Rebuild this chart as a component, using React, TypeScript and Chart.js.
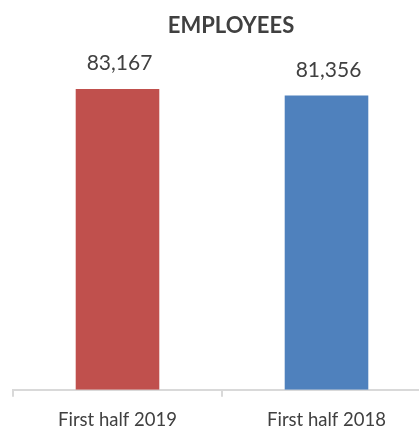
import React, { useEffect, useRef } from "react";
import { Chart, registerables } from "chart.js";

Chart.register(...registerables);

const categories = ["First half 2019", "First half 2018"];
const employees = [83167, 81356];
const barColors = ["#C0504D", "#4F81BD"];
const titleText = "EMPLOYEES";

const TEXT = "#404040";
const FONT = "Lato, 'Open Sans', sans-serif";

const overlayPlugin = {
  id: "overlay",
  afterDatasetsDraw(chart: any) {
    const ctx = chart.ctx;
    ctx.save();
    ctx.fillStyle = TEXT;
    ctx.textAlign = "center";
    ctx.textBaseline = "alphabetic";
    ctx.font = `bold 22px ${FONT}`;
    ctx.fillText(titleText, 231, 33);
    ctx.font = `21px ${FONT}`;
    const meta = chart.getDatasetMeta(0);
    meta.data.forEach((bar: any, i: number) => {
      ctx.fillText(employees[i].toLocaleString("en-US"), bar.x + 2, bar.y - 18.5);
    });
    ctx.restore();
  },
};

export default function App() {
  const ref = useRef<HTMLCanvasElement>(null);
  useEffect(() => {
    if (!ref.current) return;
    const chart = new Chart(ref.current, {
      type: "bar",
      data: {
        labels: categories,
        datasets: [
          {
            data: employees,
            backgroundColor: barColors,
            borderWidth: 0,
            barPercentage: 0.4,
            categoryPercentage: 1,
          },
        ],
      },
      options: {
        responsive: false,
        animation: false,
        devicePixelRatio: 1,
        layout: { padding: { top: 28, left: 13, right: 9, bottom: 7 } },
        plugins: {
          legend: { display: false },
          title: { display: false },
          tooltip: { enabled: false },
        },
        scales: {
          y: { display: false, min: 0, max: 100000 },
          x: {
            grid: {
              display: true,
              drawOnChartArea: false,
              offset: true,
              tickLength: 7,
              color: "#d9d9d9",
              lineWidth: 2,
            },
            border: { display: true, color: "#d9d9d9", width: 2 },
            ticks: {
              color: TEXT,
              font: { family: FONT, size: 18.5 },
              padding: 12,
              maxRotation: 0,
            },
          },
        },
      },
      plugins: [overlayPlugin],
    });
    return () => chart.destroy();
  }, []);
  return (
    <div
      style={{
        position: "fixed",
        left: 0,
        top: 0,
        width: 419,
        height: 432,
        overflow: "hidden",
        background: "#fff",
      }}
    >
      <canvas ref={ref} width={440} height={450} style={{ display: "block" }} />
    </div>
  );
}
